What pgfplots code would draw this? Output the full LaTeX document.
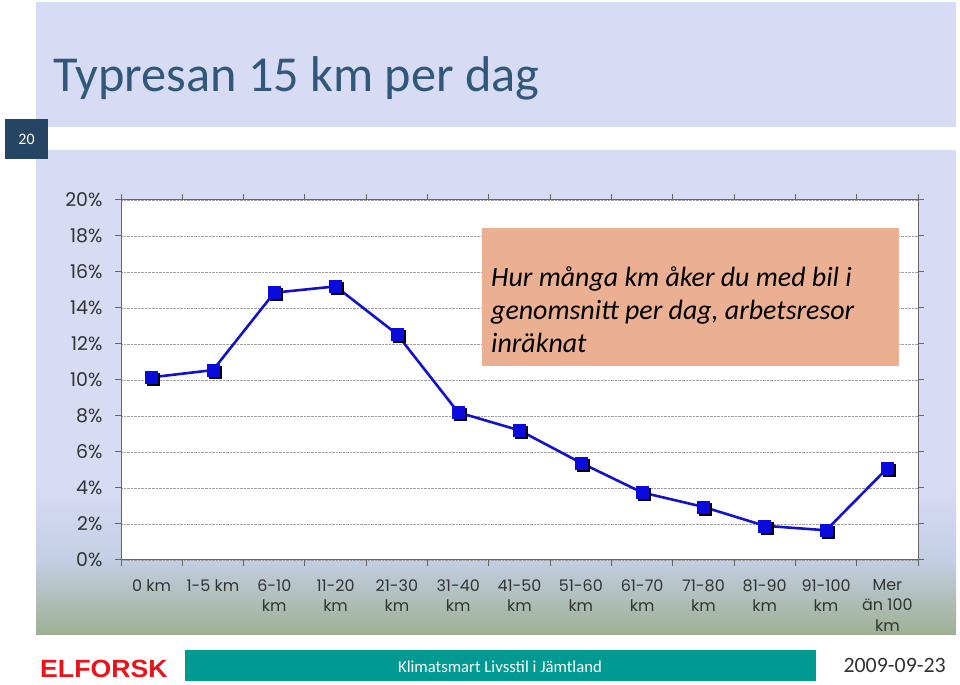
\documentclass[border=0pt]{standalone}
\usepackage{pgfplots}
\pgfplotsset{compat=1.18}
\usepackage{fontspec}
\setmainfont{Carlito}
\newfontfamily\tickfont{Poppins}
\newfontfamily\arialfont{Liberation Sans}
\definecolor{lav}{HTML}{D8DBF4}
\definecolor{lavmid}{HTML}{C3CFE4}
\definecolor{greenbot}{HTML}{9DB093}
\definecolor{pagebox}{HTML}{254563}
\definecolor{titlecol}{HTML}{31577A}
\definecolor{salmon}{HTML}{EBB092}
\definecolor{teal}{HTML}{009A93}
\definecolor{elred}{HTML}{E8141C}
\definecolor{lineblue}{HTML}{1212C8}
\definecolor{markblue}{HTML}{0A0ADC}
\definecolor{tickgray}{HTML}{333333}
\begin{document}
\begin{tikzpicture}[x=1bp,y=1bp]
\useasboundingbox (0,0) rectangle (960,685);
\fill[white] (0,0) rectangle (960,685);
% header
\fill[lav] (36,558) rectangle (956,683);
% lower panel
\fill[lav] (36,200) rectangle (956,535);
\shade[top color=lav, bottom color=greenbot, middle color=lavmid] (36,50) rectangle (956,200.5);
% page box
\fill[pagebox] (5,526) rectangle (48,566);
\node[white, font=\fontsize{16}{18}\selectfont] at (26.5,546) {20};
% title
\node[anchor=base west, inner sep=0pt, text=titlecol, font=\fontsize{50.5}{55}\selectfont] at (53,593) {Typresan 15 km per dag};
\begin{axis}[
  at={(121bp,125bp)}, anchor=south west,
  width=797bp, height=360bp, scale only axis,
  xmin=-0.5, xmax=12.5, ymin=0, ymax=20,
  axis background/.style={fill=white},
  axis line style={draw=gray!80!black, line width=1pt},
  ytick={0,2,...,20},
  yticklabels={0\%,2\%,4\%,6\%,8\%,10\%,12\%,14\%,16\%,18\%,20\%},
  xtick={0,...,12},
  xticklabels={0 km,1-5 km,{6-10\\km},{11-20\\km},{21-30\\km},{31-40\\km},{41-50\\km},{51-60\\km},{61-70\\km},{71-80\\km},{81-90\\km},{91-100\\km},{Mer\\än 100\\km}},
  minor xtick={-0.5,0.5,...,12.5},
  major x tick style={draw=none},
  minor x tick style={draw=gray!80!black, line width=1pt},
  y tick style={draw=gray!80!black, line width=1pt},
  tick align=outside,
  major tick length=6bp, minor tick length=6bp,
  ymajorgrids,
  major grid style={draw=gray!75, densely dotted, line width=0.8pt},
  tick label style={text=tickgray, font=\tickfont\fontsize{16}{20.5}\selectfont},
  yticklabel style={font=\tickfont\fontsize{19}{20}\selectfont, xshift=-9bp},
  xticklabel style={align=center, yshift=-10bp},
  clip=false,
]
\addplot[only marks, mark=square*, mark size=6bp, mark options={fill=black, draw=black, xshift=2bp, yshift=-2bp}] coordinates {
(0,10.15) (1,10.55) (2,14.85) (3,15.2) (4,12.55) (5,8.2) (6,7.2) (7,5.4) (8,3.75) (9,2.95) (10,1.9) (11,1.65) (12,5.1)};
\addplot[lineblue, line width=2.6pt, mark=square*, mark size=6bp, mark options={fill=markblue, draw=markblue, line width=0.5pt}] coordinates {
(0,10.15) (1,10.55) (2,14.85) (3,15.2) (4,12.55) (5,8.2) (6,7.2) (7,5.4) (8,3.75) (9,2.95) (10,1.9) (11,1.65) (12,5.1)};
\end{axis}
% annotation box
\fill[salmon] (482,319) rectangle (899,457);
\begin{scope}[every node/.style={anchor=base west, inner sep=0pt, font=\itshape\fontsize{28}{33}\selectfont}]
\node at (491,398) {Hur många km åker du med bil i};
\node at (491,365) {genomsnitt per dag, arbetsresor};
\node at (491,332) {inräknat};
\end{scope}
% footer
\node[anchor=base west, inner sep=0pt, text=elred, font=\arialfont\bfseries\fontsize{25}{28}\selectfont, xscale=1.07] at (40,7) {ELFORSK};
\fill[teal] (185,4) rectangle (816,35);
\node[anchor=base, inner sep=0pt, white, font=\fontsize{16.8}{18}\selectfont] at (500,12) {Klimatsmart Livsstil i Jämtland};
\node[anchor=base east, inner sep=0pt, text=tickgray, font=\fontsize{22}{24}\selectfont] at (946,12) {2009-09-23};
\end{tikzpicture}
\end{document}
